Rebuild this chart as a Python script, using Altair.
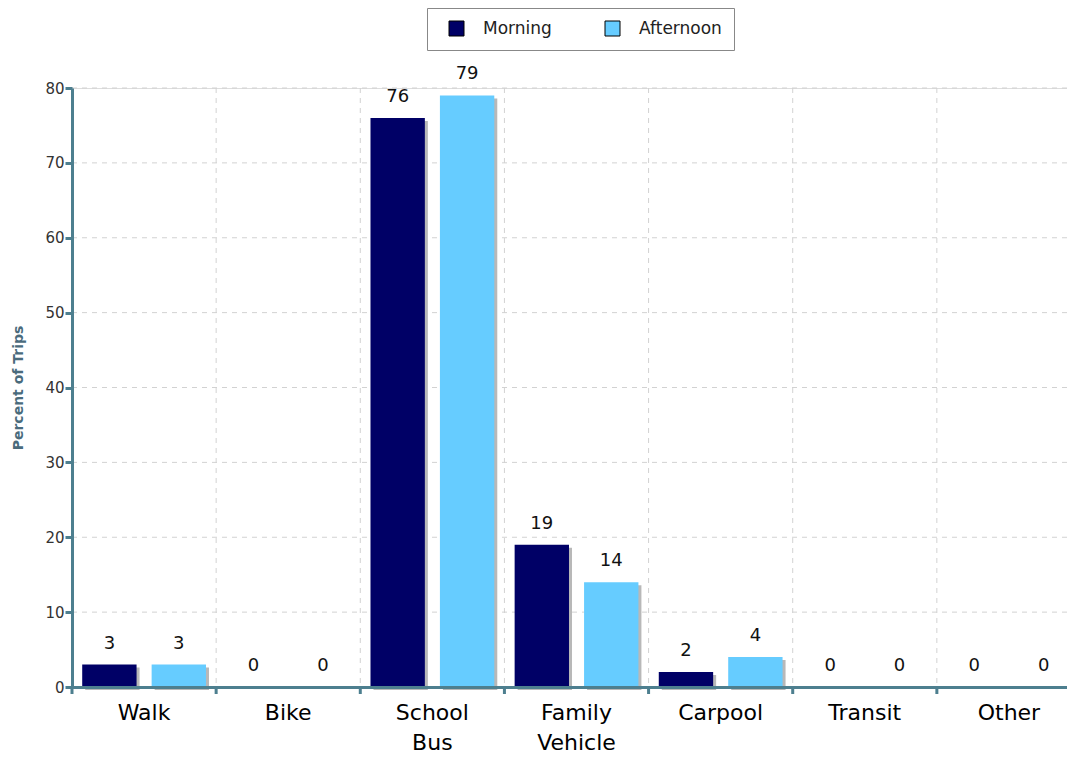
import altair as alt
import pandas as pd

categories = ["Walk", "Bike", "School Bus", "Family Vehicle", "Carpool", "Transit", "Other"]
periods = ["Morning", "Afternoon"]
morning = [3, 0, 76, 19, 2, 0, 0]
afternoon = [3, 0, 79, 14, 4, 0, 0]
colors = ["#000066", "#66ccff"]
y_ticks = [0, 10, 20, 30, 40, 50, 60, 70, 80]

rows = []
for c, m, a in zip(categories, morning, afternoon):
    rows.append({"mode": c, "period": "Morning", "value": m})
    rows.append({"mode": c, "period": "Afternoon", "value": a})
df = pd.DataFrame(rows)
cat_df = pd.DataFrame({"mode": categories[1:]})
grid_df = pd.DataFrame({"v": y_ticks[1:]})

BAND = 144.2
W, H = round(BAND * len(categories)), 599
SH = 3
TEAL = "#4d7f8f"
FONT = "DejaVu Sans"
PAD_L, PAD_T = 64, 80
PAD_R = 1067 - 8 - PAD_L - W  # clip at window edge like the reference

xscale = alt.Scale(domain=categories, paddingInner=0, paddingOuter=0)
yscale = alt.Scale(domain=[0, 80], nice=False)
xoff = alt.Scale(type="band", domain=periods, paddingInner=0.217, paddingOuter=0.147, range=[0, BAND])
xoff_sh = alt.Scale(type="band", domain=periods, paddingInner=0.217, paddingOuter=0.147, range=[SH, BAND + SH])

xaxis = alt.Axis(
    labelExpr="split(datum.label, ' ')", labelFontSize=22, labelColor="black",
    labelFont=FONT, labelAngle=0, labelPadding=15, labelLineHeight=30,
    ticks=False, domain=True, domainColor=TEAL, domainWidth=3, grid=False,
    title=None, zindex=2,
)
yaxis = alt.Axis(
    values=y_ticks, grid=False, domainColor=TEAL, domainWidth=3,
    tickColor=TEAL, tickWidth=3, tickSize=7, labelFontSize=15,
    labelColor="#333333", labelFont=FONT, labelPadding=1,
    title="Percent of Trips", titleFontSize=14, titleColor="#4a6b7c",
    titleFont=FONT, titleFontWeight="bold", titlePadding=19, zindex=2,
)

X = alt.X("mode:N", scale=xscale, axis=xaxis, sort=categories)
Y = alt.Y("value:Q", scale=yscale, axis=yaxis)
XO = alt.XOffset("period:N", scale=xoff, sort=periods)
XO_T = alt.XOffset("period:N", scale=xoff, sort=periods, bandPosition=0.5)

vgrid = alt.Chart(cat_df).mark_rule(strokeDash=[5, 5], color="#d2d2d2", strokeWidth=1).encode(
    x=alt.X("mode:N", scale=xscale, axis=xaxis, bandPosition=0, sort=categories),
    y=alt.value(0), y2=alt.value(H),
)
hgrid = alt.Chart(grid_df).mark_rule(strokeDash=[5, 5], color="#d2d2d2", strokeWidth=1).encode(
    y=alt.Y("v:Q", scale=yscale, axis=yaxis),
    x=alt.value(0), x2=alt.value(W),
)
xticks = alt.Chart(pd.DataFrame({"mode": categories})).mark_rule(color=TEAL, strokeWidth=3).encode(
    x=alt.X("mode:N", scale=xscale, axis=xaxis, bandPosition=0, sort=categories),
    y=alt.value(H), y2=alt.value(H + 7),
)

shadow = alt.Chart(df).mark_bar(color="#b8b8b8", yOffset=SH).encode(
    x=X, xOffset=alt.XOffset("period:N", scale=xoff_sh, sort=periods), y=Y,
)
bars = alt.Chart(df).mark_bar().encode(
    x=X, xOffset=XO, y=Y,
    color=alt.Color(
        "period:N", scale=alt.Scale(domain=periods, range=colors), sort=periods,
        legend=alt.Legend(
            orient="none", legendX=355, legendY=-80, direction="horizontal",
            title=None, symbolType="square", symbolSize=225,
            symbolStrokeColor="black", symbolStrokeWidth=1, symbolOpacity=1,
            symbolOffset=9,
            labelFontSize=17, labelFont=FONT, labelColor="#222222",
            labelOffset=18, columnPadding=43, padding=12,
            strokeColor="#888888", fillColor="white",
        ),
    ),
)
labels = alt.Chart(df).mark_text(
    dy=-12, baseline="bottom", fontSize=18, font=FONT, color="#111111"
).encode(x=X, xOffset=XO_T, y=Y, text=alt.Text("value:Q"))

chart = alt.layer(vgrid, hgrid, shadow, bars, labels, xticks).resolve_scale(
    xOffset="independent"
).properties(
    width=W, height=H,
    autosize=alt.AutoSizeParams(type="none"),
    padding={"left": PAD_L, "top": PAD_T, "right": PAD_R, "bottom": 72},
).configure_view(stroke=None).configure(font=FONT, background="white")

chart.save("out.html", embed_options={"renderer": "svg", "actions": False})
